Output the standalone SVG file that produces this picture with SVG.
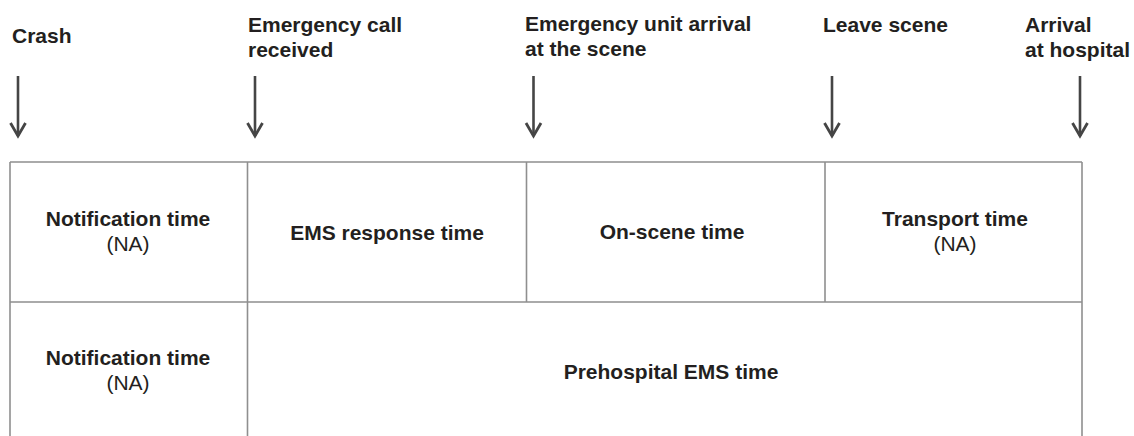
<svg xmlns="http://www.w3.org/2000/svg" width="1134" height="436" viewBox="0 0 1134 436">
<style>
.t{font-family:"Liberation Sans",Arial,sans-serif;font-size:21px;fill:#231f20}
.b{font-weight:bold}
.c{text-anchor:middle}
.grid{stroke:#8f8f8f;stroke-width:1.6;fill:none}
.arr{stroke:#454545;stroke-width:2.6;fill:none}
</style>
<defs>
<marker id="ah" viewBox="0 0 20 20" refX="17" refY="10" markerWidth="20" markerHeight="20" markerUnits="userSpaceOnUse" orient="auto">
<path d="M4,2.5 L17,10 L4,17.5" fill="none" stroke="#454545" stroke-width="2.8"/>
</marker>
</defs>
<g id="labels">
<g id="lbl-crash"><text class="t b" x="12" y="43">Crash</text></g>
<g id="lbl-call"><text class="t b" x="248" y="32">Emergency call</text><text class="t b" x="248" y="57">received</text></g>
<g id="lbl-unit"><text class="t b" x="525" y="31">Emergency unit arrival</text><text class="t b" x="525" y="56">at the scene</text></g>
<g id="lbl-leave"><text class="t b" x="823" y="32">Leave scene</text></g>
<g id="lbl-hospital"><text class="t b" x="1025" y="32">Arrival</text><text class="t b" x="1025" y="57">at hospital</text></g>
</g>
<g id="connectors">
<line class="arr" x1="18" y1="76" x2="18" y2="136" marker-end="url(#ah)"/>
<line class="arr" x1="255" y1="76" x2="255" y2="136" marker-end="url(#ah)"/>
<line class="arr" x1="533.5" y1="76" x2="533.5" y2="136" marker-end="url(#ah)"/>
<line class="arr" x1="832" y1="76" x2="832" y2="136" marker-end="url(#ah)"/>
<line class="arr" x1="1080" y1="76" x2="1080" y2="136" marker-end="url(#ah)"/>
</g>
<g id="grid">
<path class="grid" d="M10,162 H1082 M10,302 H1082 M10,162 V436 M247.5,162 V436 M526.5,162 V302 M825,162 V302 M1082,162 V436"/>
</g>
<g id="cell-notification-1"><text class="t b c" x="128" y="226">Notification time</text><text class="t c" x="128" y="251">(NA)</text></g>
<g id="cell-ems-response"><text class="t b c" x="387" y="240">EMS response time</text></g>
<g id="cell-on-scene"><text class="t b c" x="672" y="239">On-scene time</text></g>
<g id="cell-transport"><text class="t b c" x="955" y="226">Transport time</text><text class="t c" x="955" y="251">(NA)</text></g>
<g id="cell-notification-2"><text class="t b c" x="128" y="365">Notification time</text><text class="t c" x="128" y="390">(NA)</text></g>
<g id="cell-prehospital"><text class="t b c" x="671" y="379">Prehospital EMS time</text></g>
</svg>
